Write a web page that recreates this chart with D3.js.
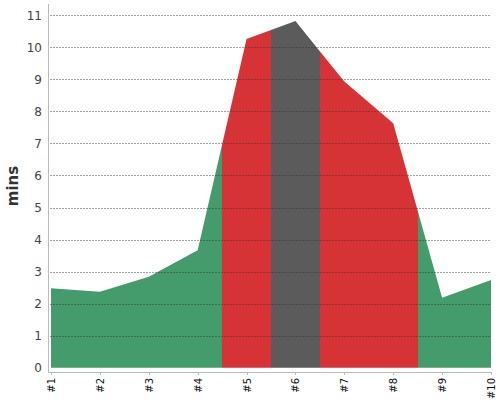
<head>
  <script src="https://cdnjs.cloudflare.com/ajax/libs/d3/7.8.5/d3.min.js"></script>
  <style>
    body { margin: 0; background: #fff; }
    text { font-family: "DejaVu Sans", sans-serif; }
  </style>
</head>

<body>
  <div id="chart"></div>

  <script>
    const categories = ['#1', '#2', '#3', '#4', '#5', '#6', '#7', '#8', '#9', '#10'];
    const values = [2.48, 2.37, 2.84, 3.67, 10.26, 10.82, 8.93, 7.63, 2.18, 2.74];
    const status = ['ok', 'ok', 'ok', 'ok', 'bad', 'idle', 'bad', 'bad', 'ok', 'ok'];
    const yTicks = [0, 1, 2, 3, 4, 5, 6, 7, 8, 9, 10, 11];

    const colors = { ok: '#449c6c', bad: '#d63336', idle: '#5b5b5b' };

    const width = 500, height = 400;
    const plotLeft = 51, plotRight = 491, plotTop = 15.3, plotBottom = 367.7;

    const svg = d3.select('#chart').append('svg')
      .attr('width', width)
      .attr('height', height);

    const x = d3.scaleLinear().domain([0, categories.length - 1]).range([plotLeft, plotRight]);
    const y = d3.scaleLinear().domain([0, 11]).range([plotBottom, plotTop]);

    const data = values.map((v, i) => ({ i, v }));

    const area = d3.area()
      .x(d => x(d.i))
      .y0(y(0))
      .y1(d => y(d.v));

    // group neighbouring points with the same status into runs
    const runs = [];
    status.forEach((s, i) => {
      const last = runs[runs.length - 1];
      if (last && last.s === s) last.end = i;
      else runs.push({ s, start: i, end: i });
    });

    const defs = svg.append('defs');
    runs.forEach((r, k) => {
      const x0 = r.start === 0 ? 0 : Math.round(x(r.start - 0.5));
      const x1 = r.end === categories.length - 1 ? width : Math.round(x(r.end + 0.5));
      defs.append('clipPath').attr('id', 'clip' + k)
        .append('rect')
        .attr('x', x0).attr('y', 0)
        .attr('width', x1 - x0)
        .attr('height', height);
      svg.append('path')
        .datum(data)
        .attr('d', area)
        .attr('fill', colors[r.s])
        .attr('clip-path', 'url(#clip' + k + ')');
    });

    // grid lines
    svg.append('g').selectAll('line')
      .data(yTicks.slice(1))
      .join('line')
      .attr('x1', plotLeft - 1).attr('x2', plotRight)
      .attr('y1', d => Math.round(y(d)) + 0.5)
      .attr('y2', d => Math.round(y(d)) + 0.5)
      .attr('stroke', '#333')
      .attr('stroke-opacity', 0.45)
      .attr('stroke-width', 1)
      .attr('stroke-dasharray', '2,1');

    // y axis
    svg.append('line')
      .attr('x1', 48.5).attr('x2', 48.5)
      .attr('y1', 4).attr('y2', 372)
      .attr('stroke', '#bbb');

    svg.append('g').selectAll('text')
      .data(yTicks)
      .join('text')
      .attr('x', 42)
      .attr('y', d => y(d))
      .attr('dy', '0.35em')
      .attr('text-anchor', 'end')
      .attr('font-size', 12)
      .attr('fill', '#444')
      .text(d => d);

    // x axis
    svg.append('line')
      .attr('x1', 48).attr('x2', plotRight + 1)
      .attr('y1', 372.5).attr('y2', 372.5)
      .attr('stroke', '#bbb');

    const xt = svg.append('g').selectAll('g')
      .data(categories)
      .join('g')
      .attr('transform', (d, i) => `translate(${Math.round(x(i)) + 0.5},372)`);

    xt.append('line')
      .attr('y1', 0).attr('y2', 3)
      .attr('stroke', '#bbb');

    xt.append('text')
      .attr('transform', 'rotate(-90)')
      .attr('x', -6)
      .attr('dy', '0.35em')
      .attr('text-anchor', 'end')
      .attr('font-size', 10)
      .attr('fill', '#111')
      .text(d => d);

    svg.append('text')
      .attr('transform', 'translate(17.5,186) rotate(-90)')
      .attr('text-anchor', 'middle')
      .attr('font-size', 15)
      .attr('font-weight', 'bold')
      .attr('fill', '#333')
      .text('mins');
  </script>
</body>
